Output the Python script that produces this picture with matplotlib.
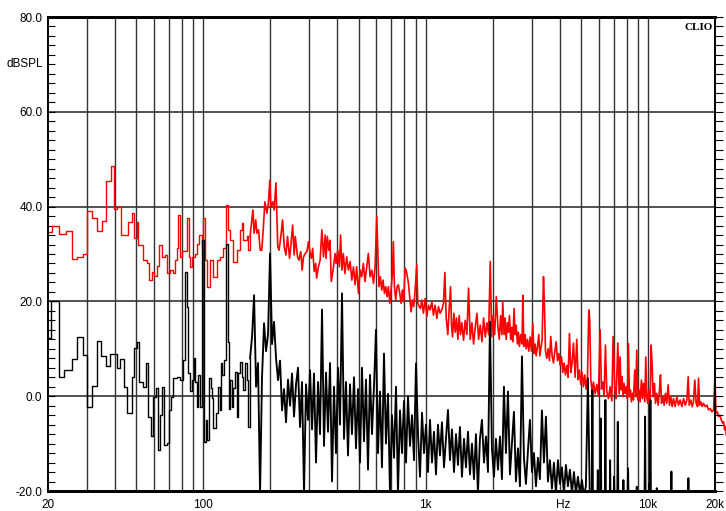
import matplotlib
matplotlib.use('Agg')
import matplotlib.pyplot as plt
from matplotlib.ticker import FixedLocator, FixedFormatter, MultipleLocator, NullLocator

plt.rcParams['font.family'] = ['Liberation Sans', 'DejaVu Sans']

# red trace (Hz, dBSPL)
red_freq = [
    20.0, 20.8, 22.4, 24.0, 25.6, 27.1, 28.7, 30.0, 31.6, 33.1, 34.9, 36.5, 38.3, 39.6, 41.0, 42.5,
    45.7, 47.9, 48.9, 50.1, 50.6, 53.3, 55.6, 56.9, 58.6, 60.0, 61.7, 63.3, 65.3, 67.2, 68.8, 70.8,
    72.8, 74.5, 75.9, 77.1, 78.5, 80.4, 84.1, 85.9, 87.1, 89.2, 91.7, 93.9, 95.9, 98.3, 99.9, 101.7,
    104.1, 107.1, 110.8, 114.8, 118.8, 122.9, 126.4, 128.7, 131.8, 136.3, 141.2, 146.1, 148.7, 151.2,
    156.6, 159.2, 162.1,
    167, 169, 172, 174, 177, 180, 183, 186, 189, 193, 196, 199, 201, 205, 208, 212, 214, 216, 219,
    223, 227, 231, 235, 239, 244, 247, 252, 256, 259, 265, 269, 274, 278, 282, 287, 292, 297, 302,
    306, 310, 315, 320, 323, 329, 335, 341, 347, 353, 356, 361, 366, 371, 376, 384, 391, 395, 402,
    409, 414, 420, 426, 433, 441, 449, 457, 465, 473, 481, 489, 498, 507, 515, 524, 533, 543, 552,
    562, 572, 582, 592, 602,
    616, 625, 634, 643, 652, 661, 670, 679, 689, 698, 708, 715, 723, 733, 743, 753, 764, 775, 785,
    796, 807, 816, 827, 836, 847, 859, 871, 883, 896, 911, 921, 934, 947, 960, 976, 994, 1011, 1029,
    1046, 1065, 1083, 1102, 1122, 1141, 1161, 1181, 1202, 1219, 1236, 1257, 1275, 1293, 1306, 1320,
    1338, 1357, 1376, 1395, 1414, 1434, 1454, 1479, 1505, 1531, 1558, 1585, 1613, 1641, 1670, 1699,
    1729, 1759, 1790, 1821, 1853, 1885, 1918, 1951, 1978, 2006, 2041, 2076, 2113, 2142, 2172, 2202,
    2220, 2251, 2275, 2299, 2330, 2355, 2379, 2412, 2437, 2463, 2497, 2523, 2550, 2585, 2612, 2639,
    2676, 2713, 2732, 2760, 2799, 2829, 2868, 2907, 2948, 2989, 3030, 3062, 3104, 3137, 3181, 3225,
    3259, 3293, 3338, 3385, 3420, 3456, 3504, 3552, 3602, 3650, 3702, 3755, 3807, 3860, 3914, 3968,
    4025, 4080, 4134, 4191, 4250, 4313, 4369, 4430, 4491, 4553, 4618, 4699, 4779, 4846, 4913, 4982,
    5051, 5122, 5192, 5265, 5338, 5412, 5468, 5525, 5602, 5680, 5779, 5880, 5982, 6086, 6171, 6256,
    6343, 6431, 6521, 6635, 6750, 6868, 6964, 7085, 7183, 7308, 7410,
    7484, 7562, 7640, 7720, 7800, 7882, 7963, 8075, 8159, 8244, 8331, 8418, 8505, 8593, 8712, 8803,
    8894, 8987, 9113, 9206, 9335, 9432, 9531, 9665, 9766, 9867, 9970, 10074, 10214, 10321, 10428,
    10537, 10684, 10795, 10947, 11100, 11254, 11372, 11490, 11651, 11810, 11975, 12141, 12308, 12481,
    12654, 12830, 13012, 13240, 13471, 13706, 13944, 14188, 14436, 14688, 14945, 15153, 15310, 15574,
    15792, 16000, 16225, 16450, 16694, 16866, 17042, 17280, 17520, 17745, 18055, 18394, 18715, 19042,
    19374, 19712, 19987, 20196, 20478, 20765, 21053, 21345, 21643, 21870, 22098, 22327, 22482,
]
red_db = [
    34.7, 36.0, 34.2, 34.9, 28.9, 29.3, 29.9, 39.1, 37.7, 34.9, 37.0, 45.5, 48.6, 39.5, 40.0, 34.0,
    36.8, 38.6, 33.4, 36.8, 31.9, 28.7, 28.0, 24.5, 26.3, 25.3, 27.5, 32.0, 29.3, 29.7, 26.0, 26.6,
    26.0, 28.8, 31.3, 38.2, 29.4, 30.7, 37.6, 29.4, 27.3, 29.4, 30.1, 32.2, 34.0, 31.2, 37.5, 28.7,
    23.1, 28.7, 25.2, 28.7, 29.4, 31.2, 40.3, 35.0, 32.9, 28.4, 30.8, 35.0, 36.5, 33.0,
    33.7, 30.8, 33.7,
    39.3, 34.4, 37.2, 34.4, 35.1, 30.8, 30.8, 35.4, 41.0, 38.6, 40.7, 45.6, 40.0, 41.0, 39.3, 45.0, 37.9, 31.5, 30.8,
    33.7, 37.2, 31.5, 29.8, 33.7, 29.1, 31.5, 36.1, 29.8, 33.7, 29.4, 28.7, 30.5, 26.6, 29.4, 30.1, 30.5, 32.6, 30.1,
    29.1, 31.2, 26.3, 28.0, 24.9, 27.3, 28.7, 35.1, 29.4, 34.0, 29.1, 33.7, 30.8, 32.9, 24.2, 27.0, 30.1, 28.0, 30.8,
    27.3, 34.0, 26.6, 30.1, 25.9, 29.4, 26.6, 28.4, 24.5, 27.3, 23.5, 27.3, 21.7, 26.6, 25.2, 28.0, 24.2, 27.3, 30.1,
    25.2, 26.6, 23.8, 27.3, 37.9,
    23.1, 25.2, 22.4, 24.5, 21.7, 23.1, 21.0, 23.1, 19.6, 22.4, 25.9, 32.6, 23.1, 20.3, 23.1, 23.5, 21.7, 19.6, 22.4,
    19.9, 27.0, 26.6, 25.2, 23.8, 21.0, 17.8, 20.3, 18.9, 22.4, 27.7, 19.6, 18.9, 18.5, 20.3, 17.5, 20.6, 16.8, 19.2,
    18.2, 19.9, 17.1, 19.2, 16.4, 18.9, 17.5, 18.2, 19.6, 26.1, 16.5, 13.0, 18.5, 23.1, 15.0, 12.5,
    17.5, 13.5, 16.5, 12.0, 17.0, 13.0, 15.5, 11.8, 16.0, 13.0, 22.8, 12.0, 15.5, 11.0, 14.5, 17.5,
    12.0, 15.0, 11.5, 16.5, 12.5, 15.5, 13.0, 28.4, 12.5, 17.0, 13.0, 21.0, 14.5, 12.0, 17.0, 13.0,
    19.9, 13.0, 16.5, 12.0, 15.5, 13.5, 17.0, 12.0, 14.5, 11.5, 18.5, 13.0, 15.0, 11.0, 13.5, 10.5,
    13.0, 11.0, 21.3, 10.5, 13.0, 10.0, 12.0, 9.5, 12.5, 9.5, 15.4, 9.0, 11.0, 8.5, 10.5, 13.0,
    8.5, 10.0, 12.0, 25.2, 18.9, 9.5, 8.0, 10.0, 7.5, 12.6, 8.5, 7.0, 9.5, 11.5, 7.5, 9.0,
    6.5, 8.3, 5.0, 7.0, 4.5, 6.5, 4.0, 13.2, 5.0, 7.0, 11.2, 4.0, 12.0, 3.5, 5.5, 2.5,
    5.0, 2.0, 4.5, 1.5, 4.0, 18.2, 16.0, 3.5, 1.0, 3.0, 0.5, 2.5, 0.0, 14.0, 1.5, 3.0,
    0.0, 10.8, 1.0, -0.5, 2.0, -1.0, 12.6, 1.5, -0.5, 11.2, 0.5,
    8.3, 1.3, 4.1, -0.1, 2.7, 0.6, 2.0, -0.5, 11.1, -0.1, 1.3, -1.2, 0.6, -0.8, 5.5, -0.1,
    9.7, -0.8, 1.3, -1.2, 3.4, -0.5, 2.7, -1.2, 8.3, -0.1, -1.5, 1.3, -1.2, 10.8, 6.6,
    -0.1, 2.7, -1.5, 0.6, -1.9, 1.3, 4.5, -1.5, -0.1, -1.9, 0.6, -1.5, 2.4, -1.9,
    -0.1, -2.2, -0.5, -2.2, -0.1, -1.9, -0.8, -2.2, -0.5, -1.9, -0.8, 4.1, -1.9, -0.8,
    -2.2, -1.2, 3.4, -1.5, -2.2, 3.8, -1.9, -1.2, -2.2, -1.5, -2.2, -1.9, -2.9, -2.6,
    -3.3, -2.9, 4.3, -3.6, -3.3, -4.3, -4.0, -5.0, -5.7, -5.4, -7.1, -6.4, -8.2,
]

# black trace (Hz, dBSPL); -22 = below the chart floor
black_freq = [
    20.0, 20.6, 22.4, 23.7, 25.6, 27.1, 28.7, 30.0, 31.6, 33.3, 34.6, 36.5, 38.0, 41.0, 42.2, 44.0,
    45.5, 47.6, 48.9, 50.1, 51.5, 53.7, 55.2, 56.6, 58.0, 59.6, 61.1, 62.4, 63.8, 65.3, 66.7, 68.3,
    69.9, 71.6, 73.0, 75.9, 78.5, 80.7, 82.7, 84.1, 85.6, 87.1, 88.7, 90.3, 91.8, 93.4, 95.0, 96.5,
    98.2, 100.5, 102.3, 104.1, 106.4, 107.9, 109.8, 111.0, 114.0, 116.7, 118.2, 119.7, 121.7, 123.8,
    126.0, 128.7, 130.4, 131.8, 134.1, 136.3, 138.8, 141.2, 143.6, 146.1, 148.7, 151.2, 153.9, 156.6, 159.2,
    162.1, 165.5, 169.0, 172.5, 176.1, 179.8, 183.5, 187.4, 191.3, 195.3, 199.4, 203.6, 207.8, 212.2,
    216.6, 221.1, 225.8, 230.5, 235.3, 240.2, 245.3, 250.4, 255.6, 261.0, 266.4, 272.0, 277.7, 283.5,
    289.4, 295.5, 301.7, 308.0, 314.4, 321.0, 327.7, 334.6, 341.6, 348.7, 356.0, 363.5, 371.1, 378.8,
    386.7, 394.8, 403.1, 411.5, 420.1, 428.9, 437.9, 447.0, 456.4, 465.9, 475.7, 485.6, 495.8, 506.1,
    516.7, 527.5, 538.6, 549.9, 561.4, 573.1, 585.1, 597.4, 609.9, 622.6, 635.6, 648.9, 662.5, 676.4,
    690.6, 705.0, 719.8, 734.9, 750.2, 766.0, 782.0, 798.4, 815.1, 832.2, 849.6, 867.4, 885.5, 904.1,
    923.0, 942.3, 962.0, 982.2, 1002.7, 1023.7, 1045, 1067, 1089, 1112, 1135, 1159, 1183, 1208, 1233,
    1259, 1285, 1312, 1340, 1368, 1396, 1425, 1455, 1486, 1517, 1549, 1581, 1614, 1648, 1682, 1717,
    1753, 1790, 1828, 1866, 1905, 1945, 1985, 2027, 2069, 2113, 2157, 2202, 2248, 2295, 2343, 2392,
    2442, 2493, 2545, 2599, 2653, 2709, 2765, 2823, 2882, 2942, 3004, 3067, 3131, 3196, 3263, 3331,
    3401, 3472, 3545, 3619, 3695, 3772, 3851, 3932, 4014, 4098, 4184, 4271, 4360, 4452, 4545, 4640,
    4737, 4836, 4937, 5040, 5146, 5253, 5363, 5475,
    5590, 5618, 5650, 5915, 5942, 5970, 6100, 6128, 6160, 6400, 6428, 6460, 6725, 6750, 6780,
    7005, 7034, 7065, 7270, 7308, 7350, 7715, 7746, 7780, 8080, 8128, 8170, 8860, 8896, 8935,
    9640, 9698, 9750, 10070, 10106, 10150, 10190, 10244, 10300, 10900, 10944, 10990,
    12660, 12734, 12800, 15100, 15184, 15260, 20000,
]
black_db = [
    12.3, 20.0, 4.1, 5.5, 7.8, 12.4, 8.7, -2.3, 2.2, 11.7, 8.5, 6.4, 8.9, 5.9, 7.8, 2.0,
    -3.6, 4.1, 10.1, 11.5, 3.1, 2.0, 6.9, -4.4, -8.4, -0.1, 1.7, -11.3, -3.9, 2.0, -10.3, -9.9,
    -2.9, -0.1, 3.8, 4.1, 3.4, 7.6, 26.3, 18.9, 4.8, 1.0, 3.4, 8.0, 3.1, -2.2, 4.4, -2.2,
    33.0, -9.6, -5.0, -9.2, 3.8, 1.7, -0.4, -6.8, -3.6, 2.0, -2.9, 6.9, 4.4, 7.6,
    32.2, 11.5, -2.6, 3.4, -2.2, 1.7, 5.2, -4.3, 4.8, 7.3, 4.1, 1.3, 6.9, 3.4, -6.4,
    8.0, 12.5, 21.3, 2.0, 7.0, -20.5, 4.0, 15.4, 9.5, 13.0, 30.1, 11.0, 15.7, 8.0,
    3.4, 7.5, -3.0, 1.5, -5.5, 3.5, -2.0, 4.8, -4.3, 2.5, 6.0, -6.5, 3.0, -20.5,
    2.5, -5.0, 5.5, -7.0, 4.8, -14.0, 3.0, -8.0, 18.3, -10.5, 5.0, -7.5, 7.0, -18.0,
    2.0, -12.0, 6.0, -6.0, 21.7, -9.0, 3.0, -12.5, 2.5, -8.0, 4.0, -11.0, 1.5, -14.0,
    6.0, -9.5, 3.5, -15.5, 4.5, -8.0, 2.0, 14.0, -12.0, 1.0, -15.0, 9.0, -10.0, 0.5,
    -20.5, -4.0, -13.0, 2.0, -20.5, -3.0, -12.0, -1.0, -14.0, 0.0, -10.5, -4.0, -13.5, 6.9,
    -8.0, -17.0, -3.5, -12.0, -6.0, -16.0, -5.0, -14.0, -7.5, -16.5, -6.0, -12.5, -5.5, -15.0, -9.0,
    -2.9, -13.5, -7.0, -16.0, -8.0, -14.5, -6.5, -17.0, -9.0, -15.0, -7.5, -16.5, -10.0, -17.5, -8.0,
    -20.5, -9.0, -5.0, -14.0, -8.5, -16.0, 15.7, -11.0, -17.0, -9.0, -15.5, -8.5, -17.5, 2.0, -12.0,
    1.0, -16.5, -10.0, -3.3, -18.0, -11.0, -19.0, 8.4, -13.0, -18.5, -11.5, -5.0, -16.0, -12.0, -19.0,
    -13.0, -17.5, -3.0, -14.0, -4.3, -18.0, -13.5, -19.5, -14.0, -20.5, -13.5, -18.5, -15.0, -20.5, -14.5,
    -19.0, -15.5, -20.5, -16.0, -20.5, -17.0, -20.5, -17.7, -21.0, -19.0, 3.8, -22.0,
    -22.0, 1.3, -22.0, -22.0, -15.6, -22.0, -22.0, -4.7, -22.0, -22.0, -0.8, -22.0, -22.0, -13.5, -22.0,
    -22.0, -17.0, -22.0, -22.0, -5.4, -22.0, -22.0, -17.7, -22.0, -22.0, -15.2, -22.0, -22.0, -19.1, -22.0,
    -22.0, -4.3, -22.0, -22.0, -18.4, -22.0, -22.0, -0.8, -22.0, -22.0, -19.4, -22.0,
    -22.0, -15.9, -22.0, -22.0, -17.3, -22.0, -22.0,
]

x_tick_pos = [20, 100, 1000, 4150, 10000, 20000]
x_tick_labels = ['20', '100', '1k', 'Hz', '10k', '20k']
y_tick_pos = [-20, 0, 20, 40, 60, 80]
grid_freqs = [30, 40, 50, 60, 70, 80, 90, 100, 200, 300, 400, 500, 600, 700, 800, 900,
              1000, 2000, 3000, 4000, 5000, 6000, 7000, 8000, 9000, 10000]
grid_levels = [0, 20, 40, 60]

fig = plt.figure(figsize=(7.26, 5.11), dpi=100)
ax = fig.add_axes([48 / 726, 20 / 511, 667 / 726, 474 / 511])
ax.set_xscale('log')
ax.set_xlim(20, 20000)
ax.set_ylim(-20, 80)

for f in grid_freqs:
    ax.axvline(f, color='#333333', lw=1.0, zorder=1)
for g in grid_levels:
    ax.axhline(g, color='#333333', lw=1.2, zorder=1)

# low bins are drawn as steps, the dense part as a plain line
rs = red_freq.index(162.1)
bs = black_freq.index(162.1)
ax.plot(red_freq[:rs + 1], red_db[:rs + 1], color='#ff0000', lw=1.0, drawstyle='steps-post', zorder=2)
ax.plot(red_freq[rs:], red_db[rs:], color='#ff0000', lw=1.2, zorder=2, clip_on=False)
ax.plot(black_freq[:bs + 1], black_db[:bs + 1], color='#000000', lw=1.0, drawstyle='steps-post', zorder=3)
ax.plot(black_freq[bs:], black_db[bs:], color='#000000', lw=1.35, zorder=3)

ax.xaxis.set_major_locator(FixedLocator(x_tick_pos))
ax.xaxis.set_major_formatter(FixedFormatter(x_tick_labels))
ax.xaxis.set_minor_locator(NullLocator())
ax.tick_params(axis='x', length=0, pad=6, labelsize=8.5)

ax.set_yticks(y_tick_pos)
ax.set_yticklabels(['%.1f' % v for v in y_tick_pos])
ax.yaxis.set_minor_locator(MultipleLocator(2))
ax.tick_params(axis='y', which='both', direction='in', length=5, width=0.8, labelsize=8.5, pad=4)

ax2 = ax.twinx()
ax2.set_ylim(-20, 80)
ax2.yaxis.set_major_locator(MultipleLocator(2))
ax2.tick_params(axis='y', direction='out', length=6, width=0.8, labelright=False)

for a in (ax, ax2):
    a.spines['top'].set_linewidth(2)
    a.spines['bottom'].set_linewidth(2)
    a.spines['left'].set_linewidth(1.2)
    a.spines['right'].set_linewidth(1.2)

ax.text(-0.008, 70, 'dBSPL', transform=ax.get_yaxis_transform(), ha='right', va='center', fontsize=8.5)
ax.text(0.996, 0.988, 'CLIO', transform=ax.transAxes, ha='right', va='top',
        fontfamily='Liberation Serif', fontweight='bold', fontsize=8)

fig.savefig('out.png', dpi=100)
